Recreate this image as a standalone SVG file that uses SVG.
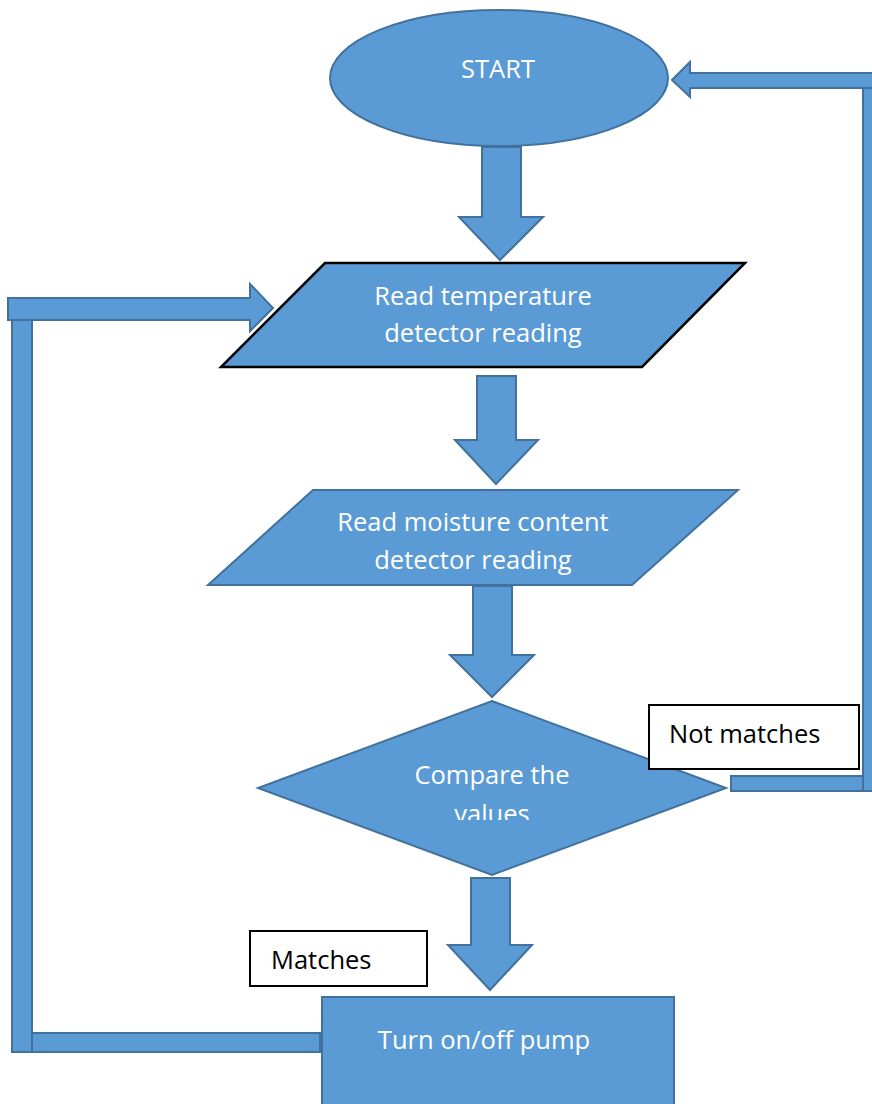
<svg xmlns="http://www.w3.org/2000/svg" width="872" height="1104" viewBox="0 0 872 1104">
<style>
.shape{fill:#5B9BD5;stroke:#41719C;stroke-width:2}
.conn{fill:#5B9BD5;stroke:#41719C;stroke-width:2}
.wt{fill:#FFFFFF;font-family:"Open Sans","Liberation Sans",sans-serif;font-size:25.5px;text-anchor:middle}
.lbl{fill:#FFFFFF;stroke:#000000;stroke-width:2}
.bt{fill:#000000;font-family:"Open Sans","Liberation Sans",sans-serif;font-size:25.5px}
</style>
<defs>
<clipPath id="clipValues"><rect x="258" y="700" width="470" height="120"/></clipPath>
</defs>
<rect width="872" height="1104" fill="#FFFFFF"/>
<g id="connectors">
<polygon class="conn" points="482,147 521,147 521,217 543,217 500,260 459,217 482,217"/>
<polygon class="conn" points="477,376 516,376 516,440 538,440 496,484 455,440 477,440"/>
<polygon class="conn" points="473,586 512,586 512,655 534,655 492,697 450,655 473,655"/>
<polygon class="conn" points="471,878 510,878 510,945 532,945 490,990 448,945 471,945"/>
<rect class="conn" x="731" y="776" width="140" height="15"/>
<rect class="conn" x="863" y="80" width="10" height="711"/>
<polygon class="conn" points="873,73 690,73 690,62 672,80 690,97 690,88 873,88"/>
<rect class="conn" x="32" y="1033" width="288" height="19"/>
<rect class="conn" x="12" y="320" width="20" height="732"/>
<polygon class="conn" points="8,298 250,298 250,284 273,308 250,331 250,320 8,320"/>
</g>
<g id="start">
<ellipse class="shape" cx="499" cy="78" rx="169" ry="68"/>
<text class="wt" x="498" y="78">START</text>
</g>
<g id="read-temp">
<polygon points="325,263 745,263 642,367 221,367" fill="#5B9BD5" stroke="#000000" stroke-width="2.5"/>
<text class="wt" x="483" y="305">Read temperature</text>
<text class="wt" x="483" y="342">detector reading</text>
</g>
<g id="read-moisture">
<polygon class="shape" points="313,490 738,490 632,585 208,585"/>
<text class="wt" x="473" y="531">Read moisture content</text>
<text class="wt" x="473" y="569">detector reading</text>
</g>
<g id="compare">
<polygon class="shape" points="492,701 726,788 492,875 258,788"/>
<text class="wt" x="492" y="784">Compare the</text>
<text class="wt" x="492" y="823" clip-path="url(#clipValues)">values</text>
</g>
<g id="pump">
<rect class="shape" x="322" y="997" width="352" height="110"/>
<text class="wt" x="484" y="1049">Turn on/off pump</text>
</g>
<g id="label-not-matches">
<rect class="lbl" x="649" y="705" width="210" height="64"/>
<text class="bt" x="669" y="743">Not matches</text>
</g>
<g id="label-matches">
<rect class="lbl" x="250" y="931" width="177" height="55"/>
<text class="bt" x="271" y="969">Matches</text>
</g>
</svg>
